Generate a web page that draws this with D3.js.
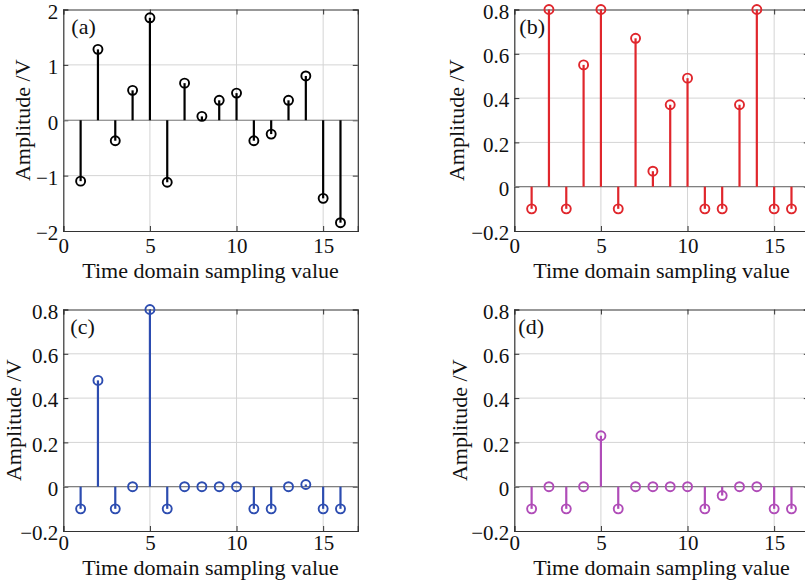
<!DOCTYPE html>
<html>
<head>
<meta charset="utf-8">
<script src="https://cdn.jsdelivr.net/npm/d3@7"></script>
<style>
  body { margin: 0; background: #fff; }
  svg { display: block; }
  text { font-family: "Liberation Serif", "Times New Roman", serif; fill: #111; }
</style>
</head>
<body>
<svg width="805" height="583"></svg>
<script>
// sample index 1..16
var samples = d3.range(1, 17);

var valuesA = [-1.1, 1.28, -0.37, 0.54, 1.85, -1.12, 0.67, 0.07, 0.36, 0.49, -0.37, -0.25, 0.36, 0.8, -1.41, -1.85];
var valuesB = [-0.1, 0.8, -0.1, 0.55, 0.8, -0.1, 0.67, 0.07, 0.37, 0.49, -0.1, -0.1, 0.37, 0.8, -0.1, -0.1];
var valuesC = [-0.1, 0.48, -0.1, 0, 0.8, -0.1, 0, 0, 0, 0, -0.1, -0.1, 0, 0.01, -0.1, -0.1];
var valuesD = [-0.1, 0, -0.1, 0, 0.23, -0.1, 0, 0, 0, 0, -0.1, -0.04, 0, 0, -0.1, -0.1];

var xTicks = [0, 5, 10, 15];
var yTicksA = [-2, -1, 0, 1, 2];
var yTicksB = [-0.2, 0, 0.2, 0.4, 0.6, 0.8];

var xLabel = "Time domain sampling value";
var yLabel = "Amplitude /V";

var svg = d3.select("svg");

function fmt(v) {
  var s = (Math.abs(v) < 1e-9) ? "0" : String(+v.toFixed(1));
  return s.replace("-", "\u2212");
}

function panel(opts) {
  var w = 294.5, h = 221.5;
  var g = svg.append("g").attr("transform", "translate(" + opts.left + "," + opts.top + ")");

  var x = d3.scaleLinear().domain([0, 17]).range([0, w]);
  var y = d3.scaleLinear().domain(opts.yDomain).range([h, 0]);

  // grid
  g.selectAll("line.gx").data(xTicks.filter(function(d) { return d > 0; }))
    .enter().append("line").attr("class", "gx")
    .attr("x1", function(d) { return x(d); }).attr("x2", function(d) { return x(d); })
    .attr("y1", 0).attr("y2", h)
    .attr("stroke", "#d4d4d4").attr("stroke-width", 1);
  g.selectAll("line.gy").data(opts.yTicks.slice(1, -1))
    .enter().append("line").attr("class", "gy")
    .attr("y1", function(d) { return y(d); }).attr("y2", function(d) { return y(d); })
    .attr("x1", 0).attr("x2", w)
    .attr("stroke", "#d4d4d4").attr("stroke-width", 1);

  // axes with inward ticks
  g.append("g").attr("transform", "translate(0," + h + ")")
    .call(d3.axisBottom(x).tickValues(xTicks).tickSize(-5).tickPadding(opts.xPad).tickFormat(fmt));
  var ay = g.append("g")
    .call(d3.axisLeft(y).tickValues(opts.yTicks).tickSize(-5).tickPadding(5).tickFormat(fmt));
  g.append("g").call(d3.axisTop(x).tickValues(xTicks).tickSize(-5).tickFormat(""));
  g.append("g").attr("transform", "translate(" + w + ",0)")
    .call(d3.axisRight(y).tickValues(opts.yTicks).tickSize(-5).tickFormat(""));
  g.selectAll(".domain").attr("stroke", "#333").attr("stroke-width", 1.2);
  g.selectAll(".tick line").attr("stroke", "#333");
  g.selectAll(".tick text").style("font-size", "21px").attr("fill", "#111");
  ay.selectAll(".tick text").attr("dy", "0.42em");

  // baseline
  g.append("line")
    .attr("x1", 0).attr("x2", w).attr("y1", y(0)).attr("y2", y(0))
    .attr("stroke", "#808080").attr("stroke-width", 1.2);

  var data = samples.map(function(s, i) { return { s: s, v: opts.values[i] }; });

  g.selectAll("line.stem").data(data).enter().append("line").attr("class", "stem")
    .attr("x1", function(d) { return x(d.s); }).attr("x2", function(d) { return x(d.s); })
    .attr("y1", y(0)).attr("y2", function(d) { return y(d.v); })
    .attr("stroke", opts.color).attr("stroke-width", 2.2);

  g.selectAll("circle.mk").data(data).enter().append("circle").attr("class", "mk")
    .attr("cx", function(d) { return x(d.s); }).attr("cy", function(d) { return y(d.v); })
    .attr("r", 4.5)
    .attr("fill", "none").attr("stroke", opts.color).attr("stroke-width", 1.9);

  g.append("text").text(opts.tag)
    .attr("x", opts.tagX).attr("y", 24)
    .style("font-size", "22px");

  g.append("text").text(xLabel)
    .attr("x", x(8.5)).attr("y", h + opts.xLabelOff)
    .attr("text-anchor", "middle")
    .style("font-size", "22px");

  g.append("text").text(yLabel)
    .attr("transform", "translate(" + (-opts.yLabelOff) + "," + (h / 2) + ") rotate(-90)")
    .attr("text-anchor", "middle")
    .style("font-size", "22px");
}

panel({ left: 63.3, top: 9.5, yDomain: [-2, 2], yTicks: yTicksA, values: valuesA, color: "#000",
        tag: "(a)", tagX: 8, xPad: 7, xLabelOff: 47, yLabelOff: 33 });
panel({ left: 514.3, top: 9.5, yDomain: [-0.2, 0.8], yTicks: yTicksB, values: valuesB, color: "#e0262c",
        tag: "(b)", tagX: 5, xPad: 7, xLabelOff: 47, yLabelOff: 50 });
panel({ left: 63.3, top: 309.5, yDomain: [-0.2, 0.8], yTicks: yTicksB, values: valuesC, color: "#2c4cb0",
        tag: "(c)", tagX: 7, xPad: 4, xLabelOff: 44, yLabelOff: 42 });
panel({ left: 514.3, top: 309.5, yDomain: [-0.2, 0.8], yTicks: yTicksB, values: valuesD, color: "#b04cb8",
        tag: "(d)", tagX: 4, xPad: 4, xLabelOff: 44, yLabelOff: 47 });
</script>
</body>
</html>
